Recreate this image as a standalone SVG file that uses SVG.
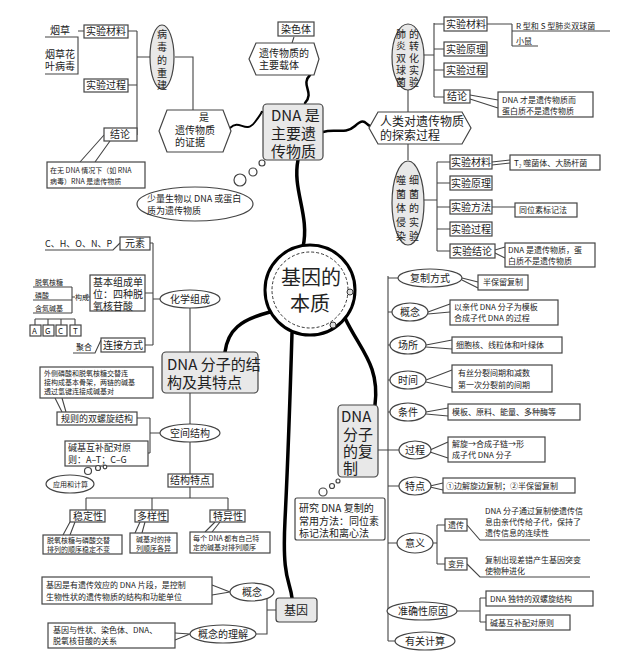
<svg xmlns="http://www.w3.org/2000/svg" width="640" height="655" viewBox="0 0 640 655">
<style>
text{font-family:"Noto Sans CJK SC","Liberation Serif",sans-serif;fill:#222}
.t{font-size:10px}.s{font-size:8px}.x{font-size:7px}.n{font-size:9px}.m{font-size:12px}.l{font-size:15px}
.b{fill:#fff;stroke:#444;stroke-width:1.2}
.g{fill:#e8e8e8;stroke:#444;stroke-width:1.2}
.ln{fill:none;stroke:#444;stroke-width:1.1}
.k{fill:none;stroke:#000;stroke-width:3.5;stroke-linecap:round}
</style>
<rect width="640" height="655" fill="#fff"/>
<g id="connectors">
<path class="ln" d="M45,37H78V74H45M78,31H84M137,31V135M128,31H137M128,85H137M137,57H150M175,57H193V110"/>
<path class="ln" d="M104,135L80,162M110,141L95,162"/>
<path class="ln" d="M294,37L292,43"/>
<path class="k" style="stroke-width:2" d="M230,128C240,118,245,135,255,122S260,112,263,112"/>
<path class="k" style="stroke-width:2.5" d="M310,75C300,85,315,92,305,103"/>
<path class="k" d="M298,160C292,190,310,215,303,247"/>
<path class="ln" d="M423,55H434M434,23V97M434,24H444M434,49H444M434,70H444M434,97H444M487,24H512M512,24V46M512,31H610M512,46H538M470,95L498,100M470,99L498,108"/>
<path class="ln" d="M408,90V112M408,144V160"/>
<path class="k" style="stroke-width:2.5" d="M323,132C335,128,345,135,355,126S365,124,370,126"/>
<path class="ln" d="M423,200H437M437,162V251M437,162H450M437,183H450M437,207H450M437,229H450M437,251H450M492,162L510,160M492,165L510,163M492,207H515M495,250L505,247M495,253L505,258"/>
<path class="k" d="M270,312C240,320,228,330,225,352"/>
<path class="k" d="M292,333C290,400,288,460,285,520S290,580,292,598"/>
<path class="k" d="M345,318C360,350,380,365,375,405"/>
<path class="ln" d="M153,243V345M150,243H153M145,293H153M145,345H153M153,299H160M190,308V352M190,393V424M190,442V474M190,487V498M86,498H228M86,498V510M152,498V510M228,498V510"/>
<path class="ln" d="M45,250H113L120,243M33,287H72M33,300H72M33,313H72M72,287V313M72,297H75M83,297H90M35,319H75M35,319V325M48,319V325M61,319V325M75,319V325M73,353H95L101,340"/>
<path class="ln" d="M137,418H150M148,453H150M150,418V453M150,433H160M55,398L62,412M62,398L66,412"/>
<path class="ln" d="M70,522L63,535M75,522L70,535M140,522L135,533M145,522L142,533M215,522L205,532M220,522L212,532"/>
<path class="ln" d="M274,592H267V634H256M267,610H276M212,585L230,592M212,595L230,592M175,633L190,634M175,640L190,634"/>
<path class="ln" d="M388,276V641M378,450H388M388,278H398M388,312H392M388,345H390M388,380H390M388,412H390M388,450H400M388,486H400M388,543H397M388,641H395"/>
<path class="ln" d="M462,278L478,282M462,280L478,288M428,312L450,304M428,314L450,312M426,345L452,340M426,347L452,349M426,380L452,370M426,382L452,388M426,412L448,408M426,414L448,416M430,450L448,442M430,452L448,458M430,486L443,483M430,487L443,490"/>
<path class="ln" d="M433,543H437M437,525V564M437,525H445M437,564H445M467,525L480,540H590M467,564L480,577H590M457,611H480M480,598V622M480,598H486M480,622H486"/>
</g>
<g id="nodes">
<g id="virus">
<text class="t" x="50" y="34">烟草</text>
<text class="t" x="45" y="58">烟草花</text><text class="t" x="45" y="70">叶病毒</text>
<rect class="b" x="84" y="25" width="44" height="13"/><text class="t" x="86" y="35">实验材料</text>
<rect class="b" x="84" y="79" width="44" height="13"/><text class="t" x="86" y="89">实验过程</text>
<rect class="b" x="104" y="128" width="33" height="13"/><text class="t" x="110" y="138">结论</text>
<ellipse class="g" cx="162" cy="57" rx="12" ry="32"/>
<text class="t" x="157" y="38">病</text><text class="t" x="157" y="51">毒</text><text class="t" x="157" y="64">的</text><text class="t" x="157" y="77">重</text><text class="t" x="157" y="89">建</text>
<rect class="b" x="47" y="162" width="98" height="26"/>
<text class="x" x="50" y="173">在无 DNA 情况下（如 RNA</text><text class="x" x="50" y="184">病毒）RNA 是遗传物质</text>
<path class="b" d="M167,110H223L231,131L223,152H167L159,131Z"/>
<text class="t" x="199" y="121">是</text><text class="t" x="175" y="134">遗传物质</text><text class="t" x="175" y="146">的证据</text>
</g>
<g id="dna-main">
<rect class="g" x="263" y="104" width="60" height="56" rx="4"/>
<text class="l" x="271" y="121">DNA 是</text><text class="l" x="271" y="139">主要遗</text><text class="l" x="271" y="157">传物质</text>
<rect class="b" x="278" y="22" width="36" height="14"/><text class="t" x="281" y="33">染色体</text>
<path class="b" d="M256,43H314L319,59L314,75H256L249,59Z"/>
<text class="t" x="259" y="57">遗传物质的</text><text class="t" x="259" y="69">主要载体</text>
<circle class="b" cx="262" cy="163" r="3"/><circle class="b" cx="253" cy="172" r="4"/><circle class="b" cx="240" cy="180" r="6"/>
<ellipse class="b" cx="195" cy="204" rx="58" ry="17"/>
<text class="n" x="147" y="202">少量生物以 DNA 或蛋白</text><text class="n" x="147" y="214">质为遗传物质</text>
</g>
<g id="explore">
<path class="b" d="M378,112H462L471,128L462,144H378L369,128Z"/>
<text class="m" x="380" y="126">人类对遗传物质</text><text class="m" x="380" y="140">的探索过程</text>
</g>
<g id="pneumo">
<ellipse class="g" cx="408" cy="57" rx="16" ry="33"/>
<text class="t" x="396" y="38">肺</text><text class="t" x="396" y="50">炎</text><text class="t" x="396" y="62">双</text><text class="t" x="396" y="74">球</text><text class="t" x="396" y="86">菌</text>
<text class="t" x="409" y="38">的</text><text class="t" x="409" y="50">转</text><text class="t" x="409" y="62">化</text><text class="t" x="409" y="74">实</text><text class="t" x="409" y="86">验</text>
<rect class="b" x="444" y="17" width="43" height="14"/><text class="t" x="446" y="28">实验材料</text>
<rect class="b" x="444" y="42" width="43" height="14"/><text class="t" x="446" y="53">实验原理</text>
<rect class="b" x="444" y="63" width="43" height="14"/><text class="t" x="446" y="74">实验过程</text>
<rect class="b" x="444" y="90" width="26" height="13"/><text class="t" x="447" y="100">结论</text>
<text class="s" x="516" y="29">R 型和 S 型肺炎双球菌</text><text class="s" x="516" y="44">小鼠</text>
<rect class="b" x="498" y="92" width="95" height="25"/>
<text class="s" x="502" y="103">DNA 才是遗传物质而</text><text class="s" x="502" y="114">蛋白质不是遗传物质</text>
</g>
<g id="phage">
<ellipse class="g" cx="408" cy="203" rx="16" ry="42"/>
<text class="t" x="396" y="184">噬</text><text class="t" x="396" y="198">菌</text><text class="t" x="396" y="212">体</text><text class="t" x="396" y="226">侵</text><text class="t" x="396" y="240">染</text>
<text class="t" x="409" y="184">细</text><text class="t" x="409" y="198">菌</text><text class="t" x="409" y="212">的</text><text class="t" x="409" y="226">实</text><text class="t" x="409" y="240">验</text>
<rect class="b" x="450" y="155" width="42" height="14"/><text class="t" x="451" y="166">实验材料</text>
<rect class="b" x="450" y="176" width="42" height="14"/><text class="t" x="451" y="187">实验原理</text>
<rect class="b" x="450" y="200" width="42" height="14"/><text class="t" x="451" y="211">实验方法</text>
<rect class="b" x="450" y="222" width="42" height="14"/><text class="t" x="451" y="233">实验过程</text>
<rect class="b" x="450" y="244" width="45" height="14"/><text class="t" x="452" y="255">实验结论</text>
<rect class="b" x="510" y="155" width="90" height="15"/><text class="s" x="514" y="166">T₂ 噬菌体、大肠杆菌</text>
<rect class="b" x="515" y="203" width="62" height="14"/><text class="s" x="519" y="213">同位素标记法</text>
<rect class="b" x="505" y="243" width="90" height="24"/>
<text class="s" x="508" y="253">DNA 是遗传物质，蛋</text><text class="s" x="508" y="264">白质不是遗传物质</text>
</g>
<g id="center">
<circle cx="310" cy="290" r="45" fill="#fff" stroke="#000" stroke-width="3"/>
<circle cx="310" cy="290" r="38" fill="none" stroke="#333" stroke-width="1" stroke-dasharray="3,2"/>
<circle cx="350" cy="292" r="3" fill="#ddd" stroke="#333"/><circle cx="333" cy="325" r="3" fill="#ddd" stroke="#333"/>
<text x="281" y="285" style="font-size:20px">基因的</text><text x="290" y="311" style="font-size:20px">本质</text>
</g>
<g id="chem">
<ellipse class="b" cx="190" cy="299" rx="30" ry="9"/><text class="t" x="170" y="303">化学组成</text>
<rect class="b" x="120" y="237" width="30" height="13"/><text class="t" x="125" y="247">元素</text>
<text class="n" x="45" y="247">C、H、O、N、P</text>
<rect class="b" x="90" y="275" width="55" height="36"/>
<text class="t" x="93" y="286">基本组成单</text><text class="t" x="93" y="298">位：四种脱</text><text class="t" x="93" y="310">氧核苷酸</text>
<text class="x" x="35" y="285">脱氧核糖</text><text class="x" x="35" y="298">磷酸</text><text class="x" x="35" y="311">含氮碱基</text><text class="x" x="75" y="300">构成</text>
<rect class="b" x="30" y="325" width="11" height="11"/><text class="s" x="32" y="334">A</text>
<rect class="b" x="43" y="325" width="11" height="11"/><text class="s" x="45" y="334">G</text>
<rect class="b" x="56" y="325" width="11" height="11"/><text class="s" x="58" y="334">C</text>
<rect class="b" x="70" y="325" width="11" height="11"/><text class="s" x="73" y="334">T</text>
<rect class="b" x="101" y="338" width="44" height="14"/><text class="t" x="103" y="349">连接方式</text>
<text class="s" x="76" y="350">聚合</text>
</g>
<g id="structure">
<rect class="g" x="162" y="352" width="96" height="41" rx="4"/>
<text class="l" x="167" y="370">DNA 分子的结</text><text class="l" x="167" y="388">构及其特点</text>
<ellipse class="b" cx="190" cy="433" rx="30" ry="9"/><text class="t" x="170" y="437">空间结构</text>
<rect class="b" x="40" y="367" width="113" height="31"/>
<text class="x" x="44" y="376">外侧磷酸和脱氧核糖交替连</text><text class="x" x="44" y="385">接构成基本骨架，两链的碱基</text><text class="x" x="44" y="394">透过氢键连接成碱基对</text>
<rect class="b" x="57" y="412" width="80" height="13"/><text class="n" x="61" y="422">规则的双螺旋结构</text>
<rect class="b" x="65" y="441" width="83" height="25"/>
<text class="n" x="68" y="451">碱基互补配对原</text><text class="n" x="68" y="463">则：A–T；C–G</text>
<circle class="b" cx="88" cy="471" r="3.5"/><circle class="b" cx="98" cy="468" r="2.5"/><circle class="b" cx="105" cy="467" r="1.8"/>
<ellipse class="b" cx="70" cy="484" rx="24" ry="9"/><text class="x" x="53" y="487">应用和计算</text>
<rect class="b" x="168" y="474" width="45" height="13"/><text class="t" x="170" y="484">结构特点</text>
<rect class="b" x="70" y="510" width="35" height="12"/><text class="t" x="73" y="520">稳定性</text>
<rect class="b" x="135" y="510" width="33" height="12"/><text class="t" x="137" y="520">多样性</text>
<rect class="b" x="210" y="510" width="35" height="12"/><text class="t" x="213" y="520">特异性</text>
<rect class="b" x="43" y="535" width="79" height="19"/>
<text class="x" x="47" y="543">脱氧核糖与磷酸交替</text><text class="x" x="47" y="552">排列的顺序稳定不变</text>
<rect class="b" x="130" y="533" width="47" height="20"/>
<text class="x" x="136" y="542">碱基对的排</text><text class="x" x="136" y="551">列顺序各异</text>
<rect class="b" x="190" y="532" width="80" height="21"/>
<text class="x" x="193" y="541">每个 DNA 都有自己特</text><text class="x" x="193" y="550">定的碱基对排列顺序</text>
</g>
<g id="gene">
<rect class="g" x="276" y="598" width="41" height="24" rx="3"/><text class="m" x="284" y="615">基因</text>
<ellipse class="b" cx="252" cy="592" rx="22" ry="9"/><text class="t" x="242" y="596">概念</text>
<ellipse class="b" cx="223" cy="634" rx="33" ry="9"/><text class="t" x="198" y="638">概念的理解</text>
<rect class="b" x="42" y="577" width="170" height="27"/>
<text class="s" x="46" y="588">基因是有遗传效应的 DNA 片段，是控制</text><text class="s" x="46" y="600">生物性状的遗传物质的结构和功能单位</text>
<rect class="b" x="48" y="623" width="127" height="25"/>
<text class="s" x="53" y="633">基因与性状、染色体、DNA、</text><text class="s" x="53" y="644">脱氧核苷酸的关系</text>
</g>
<g id="replication">
<rect class="g" x="338" y="405" width="40" height="72" rx="4"/>
<text class="l" x="341" y="422">DNA</text><text class="l" x="343" y="440">分子</text><text class="l" x="343" y="457">的复</text><text class="l" x="343" y="474">制</text>
<circle class="b" cx="338" cy="481" r="2"/><circle class="b" cx="332" cy="486" r="2.5"/><circle class="b" cx="323" cy="492" r="4"/>
<rect class="b" x="295" y="498" width="90" height="42" rx="2"/>
<text class="t" x="299" y="512">研究 DNA 复制的</text><text class="t" x="299" y="525">常用方法：同位素</text><text class="t" x="299" y="537">标记法和离心法</text>
<ellipse class="b" cx="430" cy="278" rx="32" ry="9"/><text class="t" x="410" y="282">复制方式</text>
<rect class="b" x="478" y="275" width="50" height="15"/><text class="s" x="483" y="285">半保留复制</text>
<ellipse class="b" cx="410" cy="312" rx="18" ry="9"/><text class="t" x="400" y="316">概念</text>
<rect class="b" x="450" y="300" width="108" height="25"/>
<text class="s" x="454" y="310">以亲代 DNA 分子为模板</text><text class="s" x="454" y="321">合成子代 DNA 的过程</text>
<ellipse class="b" cx="408" cy="345" rx="18" ry="9"/><text class="t" x="398" y="349">场所</text>
<rect class="b" x="452" y="337" width="110" height="16"/><text class="s" x="456" y="348">细胞核、线粒体和叶绿体</text>
<ellipse class="b" cx="408" cy="380" rx="18" ry="9"/><text class="t" x="398" y="384">时间</text>
<rect class="b" x="452" y="365" width="100" height="27"/>
<text class="s" x="458" y="376">有丝分裂间期和减数</text><text class="s" x="458" y="388">第一次分裂前的间期</text>
<ellipse class="b" cx="408" cy="412" rx="18" ry="9"/><text class="t" x="398" y="416">条件</text>
<rect class="b" x="448" y="404" width="132" height="16"/><text class="s" x="452" y="415">模板、原料、能量、多种酶等</text>
<ellipse class="b" cx="415" cy="450" rx="16" ry="9"/><text class="t" x="405" y="454">过程</text>
<rect class="b" x="448" y="437" width="97" height="25"/>
<text class="s" x="452" y="447">解旋→合成子链→形</text><text class="s" x="452" y="458">成子代 DNA 分子</text>
<ellipse class="b" cx="415" cy="486" rx="16" ry="9"/><text class="t" x="405" y="490">特点</text>
<rect class="b" x="443" y="478" width="132" height="15"/><text class="s" x="446" y="489">①边解旋边复制；②半保留复制</text>
<ellipse class="b" cx="415" cy="543" rx="18" ry="10"/><text class="t" x="405" y="547">意义</text>
<rect class="b" x="445" y="519" width="22" height="12"/><text class="s" x="448" y="528">遗传</text>
<rect class="b" x="445" y="558" width="22" height="12"/><text class="s" x="448" y="567">变异</text>
<text class="s" x="485" y="514">DNA 分子通过复制使遗传信</text><text class="s" x="485" y="525">息由亲代传给子代，保持了</text><text class="s" x="485" y="536">遗传信息的连续性</text>
<text class="s" x="485" y="563">复制出现差错产生基因突变</text><text class="s" x="485" y="574">使物种进化</text>
<ellipse class="b" cx="422" cy="611" rx="35" ry="9"/><text class="t" x="398" y="615">准确性原因</text>
<rect class="b" x="486" y="591" width="107" height="15"/><text class="s" x="490" y="602">DNA 独特的双螺旋结构</text>
<rect class="b" x="486" y="615" width="84" height="15"/><text class="s" x="490" y="626">碱基互补配对原则</text>
<ellipse class="b" cx="425" cy="641" rx="30" ry="9"/><text class="t" x="405" y="645">有关计算</text>
</g>
</g>
</svg>
